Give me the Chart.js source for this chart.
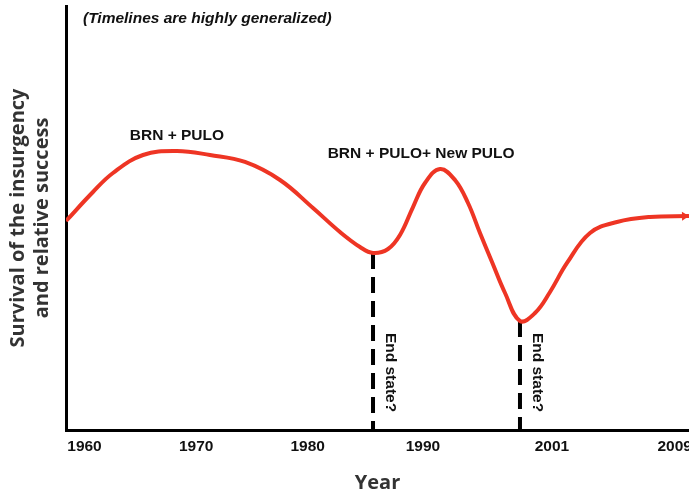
<!DOCTYPE html>
<html>
<head>
<meta charset="utf-8">
<script src="https://cdn.jsdelivr.net/npm/chart.js@4"></script>
<style>
html,body{margin:0;padding:0;background:#fff;}
#wrap{width:689px;height:495px;position:relative;}
</style>
</head>
<body>
<div id="wrap"><canvas id="c" width="689" height="495"></canvas></div>
<script>
// Timeline position (0-100 along the axis) and relative survival level (0-100)
const timelinePos = [0, 4.33, 7.54, 12.36, 17.82, 23.11, 28.73, 34.35, 39.65, 43.98, 47.19, 49.28, 51.69, 53.61, 55.70, 57.62, 60.03, 62.44, 64.53, 66.45, 68.38, 70.47, 72.87, 75.28, 77.69, 80.42, 84.11, 88.44, 93.74, 100];
const survival    = [49.29, 56.13, 60.61, 64.86, 65.80, 64.86, 63.21, 58.96, 52.36, 46.70, 43.16, 41.75, 42.69, 45.99, 52.59, 58.25, 61.56, 58.96, 53.54, 46.46, 39.62, 32.31, 25.71, 27.59, 32.55, 39.39, 46.46, 49.06, 50.24, 50.47];

// Year tick labels and their positions on the (generalized) timeline
const tickLabels = ['1960', '1970', '1980', '1990', '2001', '2009'];
const tickPos    = [2.97, 20.9, 38.8, 57.3, 78.0, 97.7];

// "End state?" markers
const endStatePos   = [49.28, 72.87];
const endStateLevel = [41.75, 25.71];

// Text notes
const noteTexts = ['(Timelines are highly generalized)', 'BRN + PULO', 'BRN + PULO+ New PULO'];
const noteX     = [2.73, 17.8, 57.0];
const noteY     = [96.9, 69.3, 65.1];
const endStateText = 'End state?';

const RED = '#EE3524';

const datasets = [{
  label: 'Survival',
  data: timelinePos.map((x, i) => ({x: x, y: survival[i]})),
  borderColor: RED,
  borderWidth: 4,
  pointRadius: 0,
  tension: 0.4,
  fill: false,
  order: 0
}];
endStatePos.forEach((x, i) => {
  datasets.push({
    label: 'End state ' + (i + 1),
    data: [{x: x, y: endStateLevel[i]}, {x: x, y: 0}],
    borderColor: '#000',
    borderWidth: 4,
    borderDash: [16, 8],
    pointRadius: 0,
    tension: 0,
    fill: false,
    order: 1
  });
});

const annotationPlugin = {
  id: 'notes',
  afterDatasetsDraw(chart) {
    const ctx = chart.ctx;
    // arrow head at end of curve
    const pts = chart.getDatasetMeta(0).data;
    const p1 = pts[pts.length - 2], p2 = pts[pts.length - 1];
    const ang = Math.atan2(p2.y - p1.y, p2.x - p1.x);
    ctx.save();
    ctx.translate(p2.x, p2.y);
    ctx.rotate(ang);
    ctx.fillStyle = RED;
    ctx.beginPath();
    ctx.moveTo(0, 0);
    ctx.lineTo(-7, -4.5);
    ctx.lineTo(-7, 4.5);
    ctx.closePath();
    ctx.fill();
    ctx.restore();
  },
  afterDraw(chart) {
    const ctx = chart.ctx;
    const xs = chart.scales.x, ys = chart.scales.y;
    ctx.save();
    ctx.fillStyle = '#111';
    ctx.textBaseline = 'middle';
    noteTexts.forEach((t, i) => {
      ctx.font = (i === 0 ? 'italic ' : '') + 'bold 15.5px "Liberation Sans", Arial, sans-serif';
      ctx.textAlign = i === 0 ? 'left' : 'center';
      ctx.fillText(t, xs.getPixelForValue(noteX[i]), ys.getPixelForValue(noteY[i]));
    });
    ctx.font = 'bold 15.5px "Liberation Sans", Arial, sans-serif';
    endStatePos.forEach((x) => {
      const px = xs.getPixelForValue(x) + 17;
      const py = ys.getPixelForValue(22.9);
      ctx.save();
      ctx.translate(px, py);
      ctx.rotate(Math.PI / 2);
      ctx.textAlign = 'left';
      ctx.textBaseline = 'middle';
      ctx.fillText(endStateText, 0, 0);
      ctx.restore();
    });
    ctx.restore();
  }
};

new Chart(document.getElementById('c'), {
  type: 'line',
  data: { datasets: datasets },
  options: {
    responsive: false,
    devicePixelRatio: 1,
    animation: false,
    layout: { autoPadding: false, padding: { left: 0, right: 0, top: 6, bottom: 0 } },
    plugins: { legend: { display: false }, tooltip: { enabled: false } },
    scales: {
      x: {
        type: 'linear',
        min: 0, max: 100,
        grid: { display: false, drawTicks: false },
        border: { display: true, color: '#000', width: 3 },
        afterBuildTicks: (axis) => { axis.ticks = tickPos.map(v => ({ value: v })); },
        afterFit: (axis) => { axis.paddingLeft = 0; axis.paddingRight = 0; },
        ticks: {
          autoSkip: false, maxRotation: 0, padding: 7.7,
          color: '#111',
          font: { family: '"Liberation Sans", Arial, sans-serif', weight: 'bold', size: 15.5 },
          callback: (v) => { const i = tickPos.indexOf(v); return i >= 0 ? tickLabels[i] : ''; }
        },
        title: {
          display: true, text: 'Year', color: '#333',
          font: { family: '"Open Sans", sans-serif', weight: 'bold', size: 20 },
          padding: { top: 7, bottom: 0 }
        }
      },
      y: {
        min: 0, max: 100,
        grid: { display: false, drawTicks: false },
        border: { display: true, color: '#000', width: 3 },
        ticks: { display: false },
        title: {
          display: true,
          text: ['Survival of the insurgency', 'and relative success'],
          color: '#333',
          font: { family: '"Open Sans", sans-serif', weight: 'bold', size: 20 },
          padding: { top: 6, bottom: 12 }
        }
      }
    }
  },
  plugins: [annotationPlugin]
});
</script>
</body>
</html>
